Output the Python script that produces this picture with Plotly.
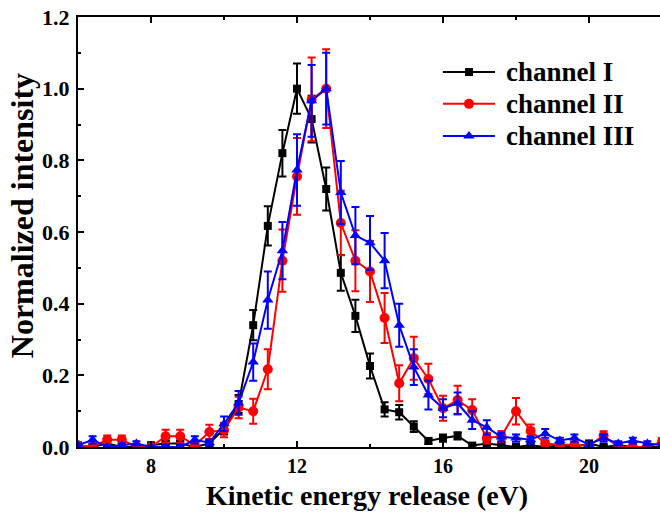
import plotly.graph_objects as go

energy = [6.0, 6.4, 6.8, 7.2, 7.6, 8.0, 8.4, 8.8, 9.2, 9.6,
          10.0, 10.4, 10.8, 11.2, 11.6, 12.0, 12.4, 12.8, 13.2, 13.6,
          14.0, 14.4, 14.8, 15.2, 15.6, 16.0, 16.4, 16.8, 17.2, 17.6,
          18.0, 18.4, 18.8, 19.2, 19.6, 20.0, 20.4, 20.8, 21.2, 21.6, 22.0]

ch1 = [0.005, 0.0, 0.01, 0.0, 0.0, 0.005, 0.01, 0.01, 0.0, 0.01,
       0.05, 0.12, 0.34, 0.617, 0.82, 1.0, 0.915, 0.72, 0.486, 0.366,
       0.226, 0.105, 0.097, 0.057, 0.017, 0.025, 0.031, 0.004, 0.01, 0.005,
       0.0, 0.005, 0.0, 0.005, 0.0, 0.01, 0.0, 0.005, 0.0, 0.0, 0.0]
ch1_err = [0.005, 0.004, 0.006, 0.004, 0.004, 0.005, 0.006, 0.006, 0.004, 0.006,
           0.015, 0.025, 0.042, 0.055, 0.065, 0.07, 0.065, 0.06, 0.05, 0.045,
           0.035, 0.02, 0.02, 0.015, 0.008, 0.01, 0.01, 0.005, 0.006, 0.005,
           0.004, 0.005, 0.004, 0.005, 0.004, 0.006, 0.004, 0.005, 0.004, 0.004, 0.004]

ch2 = [0.005, 0.0, 0.02, 0.02, 0.0, 0.0, 0.03, 0.03, 0.005, 0.042,
       0.047, 0.11, 0.10, 0.217, 0.52, 0.755, 0.97, 1.0, 0.625, 0.52,
       0.49, 0.36, 0.178, 0.248, 0.19, 0.108, 0.131, 0.103, 0.025, 0.03,
       0.10, 0.045, 0.01, 0.006, 0.006, 0.003, 0.032, 0.0, 0.0, 0.0, 0.015]
ch2_err = [0.005, 0.004, 0.012, 0.012, 0.004, 0.004, 0.018, 0.018, 0.006, 0.02,
           0.02, 0.03, 0.035, 0.056, 0.087, 0.107, 0.117, 0.11, 0.09, 0.085,
           0.085, 0.07, 0.05, 0.06, 0.042, 0.035, 0.04, 0.03, 0.015, 0.015,
           0.037, 0.018, 0.008, 0.006, 0.006, 0.005, 0.012, 0.004, 0.004, 0.004, 0.01]

ch3 = [0.005, 0.02, 0.0, 0.005, 0.01, 0.0, 0.0, 0.0, 0.02, 0.012,
       0.065, 0.123, 0.237, 0.41, 0.548, 0.773, 0.966, 1.0, 0.71, 0.59,
       0.57, 0.52, 0.34, 0.223, 0.145, 0.108, 0.122, 0.075, 0.055, 0.028,
       0.025, 0.02, 0.038, 0.018, 0.025, 0.008, 0.025, 0.01, 0.018, 0.01, 0.005]
ch3_err = [0.005, 0.01, 0.004, 0.005, 0.006, 0.004, 0.004, 0.004, 0.01, 0.008,
           0.02, 0.033, 0.052, 0.08, 0.08, 0.1, 0.1, 0.1, 0.088, 0.08,
           0.075, 0.077, 0.06, 0.05, 0.04, 0.025, 0.03, 0.025, 0.02, 0.012,
           0.01, 0.01, 0.012, 0.008, 0.01, 0.006, 0.01, 0.006, 0.008, 0.006, 0.005]

names = ["channel I", "channel II", "channel III"]
colors = ["#000000", "#ff0000", "#0000ff"]
symbols = ["square", "circle", "triangle-up"]
sizes = [8, 10, 10]
values = [ch1, ch2, ch3]
errors = [ch1_err, ch2_err, ch3_err]

font_family = "Liberation Serif"

fig = go.Figure()
for name, y, err, color, sym, size in zip(names, values, errors, colors, symbols, sizes):
    fig.add_trace(go.Scatter(
        x=energy, y=y, name=name, mode="lines+markers", showlegend=False,
        line=dict(color=color, width=2),
        marker=dict(color=color, symbol=sym, size=size),
        error_y=dict(type="data", array=err, visible=True,
                     color=color, thickness=2, width=4),
    ))

# custom legend drawn on an overlay unit axis
leg_x0, leg_x1, leg_text_x = 0.627, 0.7165, 0.732
leg_rows = [0.872, 0.798, 0.7235]
for name, color, sym, size, ly in zip(names, colors, symbols, sizes, leg_rows):
    fig.add_trace(go.Scatter(
        x=[leg_x0, leg_x1], y=[ly, ly], mode="lines", showlegend=False,
        line=dict(color=color, width=2), xaxis="x2", yaxis="y2", hoverinfo="skip",
    ))
    fig.add_trace(go.Scatter(
        x=[(leg_x0 + leg_x1) / 2], y=[ly], mode="markers", showlegend=False,
        marker=dict(color=color, symbol=sym, size=size), xaxis="x2", yaxis="y2",
        hoverinfo="skip",
    ))
    fig.add_annotation(
        x=leg_text_x, y=ly, xref="paper", yref="paper", text=name,
        showarrow=False, xanchor="left", yanchor="middle",
        font=dict(family=font_family, size=27, color="black", weight="bold"),
    )

fig.add_annotation(
    x=0.4966, y=-0.112, xref="paper", yref="paper",
    text="Kinetic energy release (eV)", showarrow=False,
    xanchor="center", yanchor="middle",
    font=dict(family=font_family, size=28, color="black", weight="bold"),
)
fig.add_annotation(
    x=-0.096, y=0.537, xref="paper", yref="paper",
    text="Normalized intensity", showarrow=False, textangle=-90,
    xanchor="center", yanchor="middle", borderpad=0,
    font=dict(family=font_family, size=32, color="black", weight="bold"),
)

fig.update_layout(
    width=660, height=513,
    margin=dict(l=78, r=0, t=17, b=66),
    paper_bgcolor="white", plot_bgcolor="white",
    font=dict(family=font_family, color="black"),
    showlegend=False,
    xaxis=dict(
        range=[6, 21.945], dtick=4, tick0=0, automargin=False,
        ticks="inside", ticklen=6, tickwidth=1.5, tickcolor="black",
        minor=dict(dtick=2, ticks="inside", ticklen=3, tickwidth=1.5, tickcolor="black"),
        showline=True, linecolor="black", linewidth=2, mirror="ticks",
        showgrid=False, zeroline=False, ticklabeloverflow="allow",
        tickfont=dict(family=font_family, size=20, color="black", weight="bold"),
    ),
    yaxis=dict(
        range=[0, 1.2], dtick=0.2, tickformat=".1f", automargin=False,
        ticks="inside", ticklen=6, tickwidth=1.5, tickcolor="black",
        minor=dict(dtick=0.1, ticks="inside", ticklen=3, tickwidth=1.5, tickcolor="black"),
        showline=True, linecolor="black", linewidth=2, mirror=False,
        showgrid=False, zeroline=False, ticklabeloverflow="allow",
        ticklabelstandoff=2,
        tickfont=dict(family=font_family, size=22, color="black", weight="bold"),
    ),
    xaxis2=dict(range=[0, 1], overlaying="x", visible=False, fixedrange=True),
    yaxis2=dict(range=[0, 1], overlaying="y", visible=False, fixedrange=True),
)

fig.write_html("out.html", config={"displayModeBar": False},
               post_script="document.body.style.margin='0px';")
